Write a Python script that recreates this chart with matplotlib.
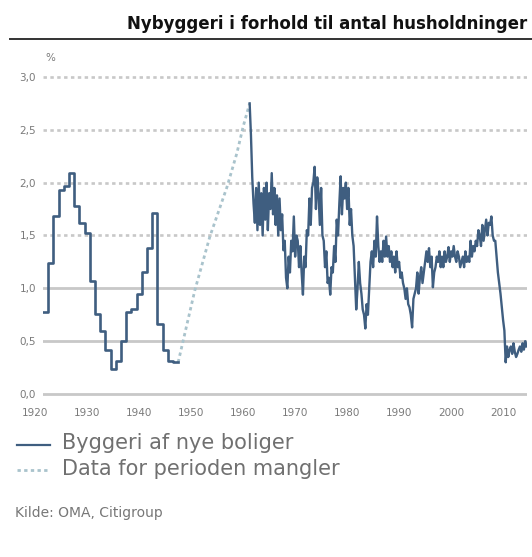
import numpy as np
import matplotlib
matplotlib.use("Agg")
import matplotlib.pyplot as plt
import matplotlib.transforms as mtransforms
from matplotlib.lines import Line2D

# annual values 1920-1945, drawn as steps (last point closes the step)
years_early = [1920, 1921, 1922, 1923, 1924, 1925, 1926, 1927, 1928, 1929,
               1930, 1931, 1932, 1933, 1934, 1935, 1936, 1937, 1938, 1939,
               1940, 1941, 1942, 1943, 1944, 1945, 1946]
vals_early = [0.78, 1.24, 1.68, 1.93, 1.97, 2.09, 1.78, 1.62, 1.52, 1.07,
              0.76, 0.60, 0.42, 0.24, 0.31, 0.50, 0.78, 0.80, 0.95, 1.15,
              1.38, 1.71, 0.66, 0.42, 0.31, 0.30, 0.30]

# period without data (dashed)
years_gap = [1946.0, 1949.2, 1952.1, 1955.4, 1957.3, 1958.5, 1959.75]
vals_gap = [0.30, 0.98, 1.49, 1.96, 2.28, 2.53, 2.75]

# quarterly values from 1959 Q4
q_start = 1959.75
vals_q = [2.75,
          2.45, 2.05, 1.80, 1.62,   # 1960
          1.95, 1.55, 2.00, 1.60,   # 1961
          1.90, 1.50, 1.95, 1.65,   # 1962
          2.00, 1.55, 1.90, 1.75,   # 1963
          2.09, 1.70, 1.95, 1.60,   # 1964
          1.88, 1.50, 1.85, 1.55,   # 1965
          1.70, 1.36, 1.45, 1.10,   # 1966
          1.00, 1.30, 1.15, 1.45,   # 1967
          1.35, 1.68, 1.30, 1.50,   # 1968
          1.45, 1.20, 1.40, 1.15,   # 1969
          0.94, 1.30, 1.20, 1.55,   # 1970
          1.50, 1.85, 1.60, 1.95,   # 1971
          2.00, 2.15, 1.75, 2.05,   # 1972
          1.90, 1.60, 1.95, 1.50,   # 1973
          1.45, 1.20, 1.35, 1.05,   # 1974
          1.10, 0.94, 1.20, 1.15,   # 1975
          1.40, 1.25, 1.65, 1.50,   # 1976
          1.80, 2.06, 1.70, 1.95,   # 1977
          1.85, 2.00, 1.75, 1.95,   # 1978
          1.60, 1.75, 1.50, 1.40,   # 1979
          1.10, 0.80, 1.00, 1.25,   # 1980
          1.05, 0.95, 0.80, 0.75,   # 1981
          0.62, 0.85, 0.75, 1.00,   # 1982
          1.25, 1.35, 1.20, 1.45,   # 1983
          1.30, 1.68, 1.40, 1.25,   # 1984
          1.35, 1.25, 1.45, 1.30,   # 1985
          1.49, 1.30, 1.40, 1.25,   # 1986
          1.35, 1.20, 1.30, 1.15,   # 1987
          1.35, 1.20, 1.25, 1.10,   # 1988
          1.15, 1.05, 1.00, 0.90,   # 1989
          1.00, 0.85, 0.82, 0.75,   # 1990
          0.63, 0.90, 0.95, 1.00,   # 1991
          1.15, 0.95, 1.10, 1.20,   # 1992
          1.05, 1.15, 1.25, 1.35,   # 1993
          1.25, 1.38, 1.20, 1.30,   # 1994
          1.01, 1.15, 1.20, 1.30,   # 1995
          1.25, 1.35, 1.20, 1.30,   # 1996
          1.20, 1.35, 1.25, 1.30,   # 1997
          1.39, 1.25, 1.35, 1.30,   # 1998
          1.40, 1.30, 1.25, 1.35,   # 1999
          1.30, 1.20, 1.25, 1.30,   # 2000
          1.20, 1.35, 1.25, 1.30,   # 2001
          1.25, 1.45, 1.30, 1.40,   # 2002
          1.35, 1.45, 1.40, 1.55,   # 2003
          1.50, 1.40, 1.60, 1.45,   # 2004
          1.55, 1.65, 1.50, 1.62,   # 2005
          1.60, 1.68, 1.50, 1.45,   # 2006
          1.45, 1.30, 1.15, 1.05,   # 2007
          0.95, 0.82, 0.70, 0.60,   # 2008
          0.30, 0.45, 0.35, 0.42,   # 2009
          0.45, 0.38, 0.48, 0.40,   # 2010
          0.35, 0.38, 0.42, 0.45,   # 2011
          0.40, 0.48, 0.42, 0.50,   # 2012
          0.45]                     # 2013
years_q = q_start + 0.25 * np.arange(len(vals_q))

yticks = [0.0, 0.5, 1.0, 1.5, 2.0, 2.5, 3.0]
ytick_labels = ["0,0", "0,5", "1,0", "1,5", "2,0", "2,5", "3,0"]
xticks = [1920, 1930, 1940, 1950, 1960, 1970, 1980, 1990, 2000, 2010]

line_col = "#3f5e80"
gap_col = "#a9c3cc"
grid_col = "#c8c8c8"
txt_col = "#7a7a7a"

fig = plt.figure(figsize=(5.32, 5.57), dpi=100)
ax = fig.add_axes([43/532, 157.7/557, 484/532, 0.5882])

# grid: solid for the low lines, dotted above
for v in yticks:
    if v <= 1.0:
        ax.axhline(v, color=grid_col, lw=2.0, zorder=1)
    else:
        ax.axhline(v, color=grid_col, lw=1.9, ls=(0, (1.3, 1.3)), zorder=1)

ax.plot(years_early, vals_early, color=line_col, lw=1.9, drawstyle="steps-post", zorder=3)
ax.plot(years_gap, vals_gap, color=gap_col, lw=2.0, ls=(0, (1.2, 1.2)), zorder=2)
ax.plot(years_q, vals_q, color=line_col, lw=1.7, zorder=3)

ax.set_xlim(1920, 2013.1)
ax.set_ylim(-0.05, 3.05)
ax.set_yticks(yticks)
ax.set_yticklabels(ytick_labels)
ax.set_xticks(xticks)
ax.tick_params(length=0, labelsize=7.5, labelcolor=txt_col)
ax.tick_params(axis="y", pad=5)
ax.tick_params(axis="x", pad=6)
for s in ax.spines.values():
    s.set_visible(False)

off = mtransforms.ScaledTranslation(-0.08, 0, fig.dpi_scale_trans)
for lab in ax.get_xticklabels():
    lab.set_transform(lab.get_transform() + off)

fig.text(50/532, 1 - 58/557, "%", fontsize=7.5, color=txt_col, ha="center", va="center")

fig.text(527/532, 1 - 29/557, "Nybyggeri i forhold til antal husholdninger",
         fontsize=12, fontweight="bold", color="#111111", ha="right", va="baseline")
fig.add_artist(Line2D([10/532, 1.0], [1 - 39/557, 1 - 39/557], color="#333333", lw=1.4))

# legend
fig.add_artist(Line2D([17/532, 50/532], [1 - 445/557] * 2, color=line_col, lw=1.6))
fig.text(62/532, 1 - 443/557, "Byggeri af nye boliger", fontsize=15, color="#707070",
         ha="left", va="center")
fig.add_artist(Line2D([17/532, 50/532], [1 - 470/557] * 2, color=gap_col, lw=2.0,
                      ls=(0, (1.2, 1.2))))
fig.text(62/532, 1 - 469/557, "Data for perioden mangler", fontsize=15, color="#707070",
         ha="left", va="center")

fig.text(15/532, 1 - 513/557, "Kilde: OMA, Citigroup", fontsize=10, color="#777777",
         ha="left", va="center")

fig.savefig("out.png", dpi=100)
